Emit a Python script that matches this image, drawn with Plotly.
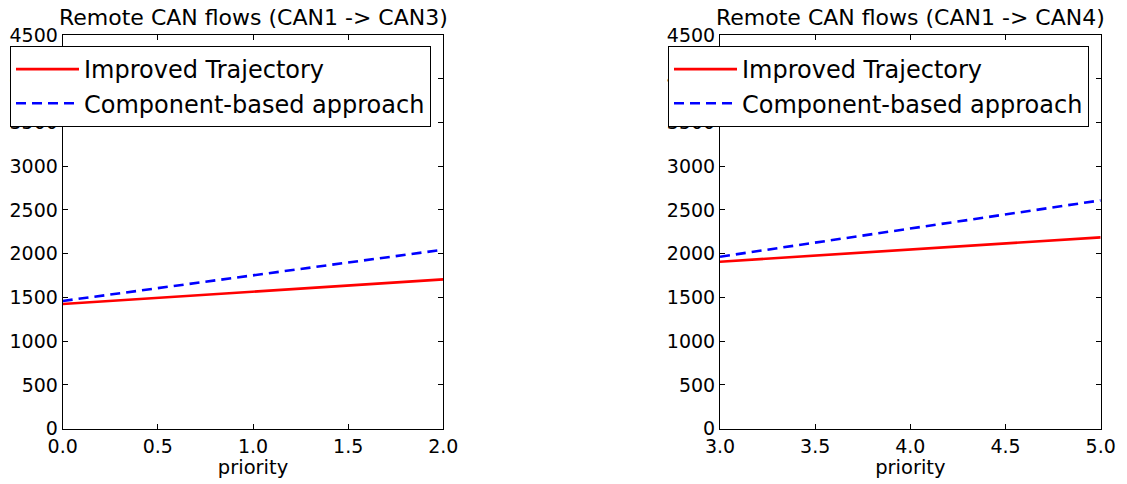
import plotly.graph_objects as go

# Data
priority_left = [0, 1, 2]
improved_left = [1425, 1566, 1707]
component_left = [1460, 1753, 2046]

priority_right = [3, 4, 5]
improved_right = [1909, 2048, 2187]
component_right = [1966, 2288, 2610]

titles = ["Remote CAN flows (CAN1 -> CAN3)", "Remote CAN flows (CAN1 -> CAN4)"]
series_names = ["Improved Trajectory", "Component-based approach"]
y_ticks = [0, 500, 1000, 1500, 2000, 2500, 3000, 3500, 4000, 4500]

W, H = 1127, 484
FONT = "DejaVu Sans"

fig = go.Figure()

def add_pair(x, imp, comp, xa, ya, legend):
    fig.add_trace(go.Scatter(x=x, y=imp, mode="lines", name=series_names[0],
                             line=dict(color="#ff0000", width=2.6),
                             xaxis=xa, yaxis=ya, legend=legend))
    fig.add_trace(go.Scatter(x=x, y=comp, mode="lines", name=series_names[1],
                             line=dict(color="#0000ff", width=2.6, dash="10px,6px"),
                             xaxis=xa, yaxis=ya, legend=legend))

add_pair(priority_left, improved_left, component_left, "x", "y", "legend")
add_pair(priority_right, improved_right, component_right, "x2", "y2", "legend2")

ydom = [1 - 428.7 / H, 1 - 35 / H]
xdom1 = [62.7 / W, 443.3 / W]
xdom2 = [720 / W, 1100.7 / W]

axis_common = dict(showline=True, linecolor="black", linewidth=1, mirror="ticks",
                   ticks="inside", ticklen=5, tickcolor="black", showgrid=False,
                   zeroline=False, automargin=False,
                   tickfont=dict(family=FONT, size=19, color="black"))

xtitle = dict(text="priority", font=dict(family=FONT, size=19.5), standoff=2)
legend_common = dict(xanchor="left", yanchor="top", bgcolor="white",
                     bordercolor="black", borderwidth=1,
                     font=dict(family=FONT, size=24, color="black"),
                     tracegroupgap=0, itemwidth=63)

fig.update_layout(
    width=W, height=H,
    margin=dict(l=0, r=0, t=0, b=0),
    plot_bgcolor="white", paper_bgcolor="white",
    font=dict(family=FONT, color="black"),
    xaxis=dict(domain=xdom1, range=[0, 2], tickvals=[0, 0.5, 1, 1.5, 2],
               ticktext=["0.0", "0.5", "1.0", "1.5", "2.0"], anchor="y",
               title=xtitle, **axis_common),
    yaxis=dict(domain=ydom, range=[0, 4500], tickvals=y_ticks, anchor="x", **axis_common),
    xaxis2=dict(domain=xdom2, range=[3, 5], tickvals=[3, 3.5, 4, 4.5, 5],
                ticktext=["3.0", "3.5", "4.0", "4.5", "5.0"], anchor="y2",
                title=xtitle, **axis_common),
    yaxis2=dict(domain=ydom, range=[0, 4500], tickvals=y_ticks, anchor="x2", **axis_common),
    legend=dict(x=10 / W, y=1 - 46 / H, **legend_common),
    legend2=dict(x=668 / W, y=1 - 46 / H, **legend_common),
    showlegend=True,
)

for xd, t in zip([xdom1, xdom2], titles):
    fig.add_annotation(text=t, x=(xd[0] + xd[1]) / 2, y=1 - 32 / H, xref="paper", yref="paper",
                       xanchor="center", yanchor="bottom", showarrow=False,
                       font=dict(family=FONT, size=22, color="black"))

fig.write_html("out.html", config={"displayModeBar": False},
               post_script="document.body.style.margin='0';document.body.style.overflow='hidden';")
